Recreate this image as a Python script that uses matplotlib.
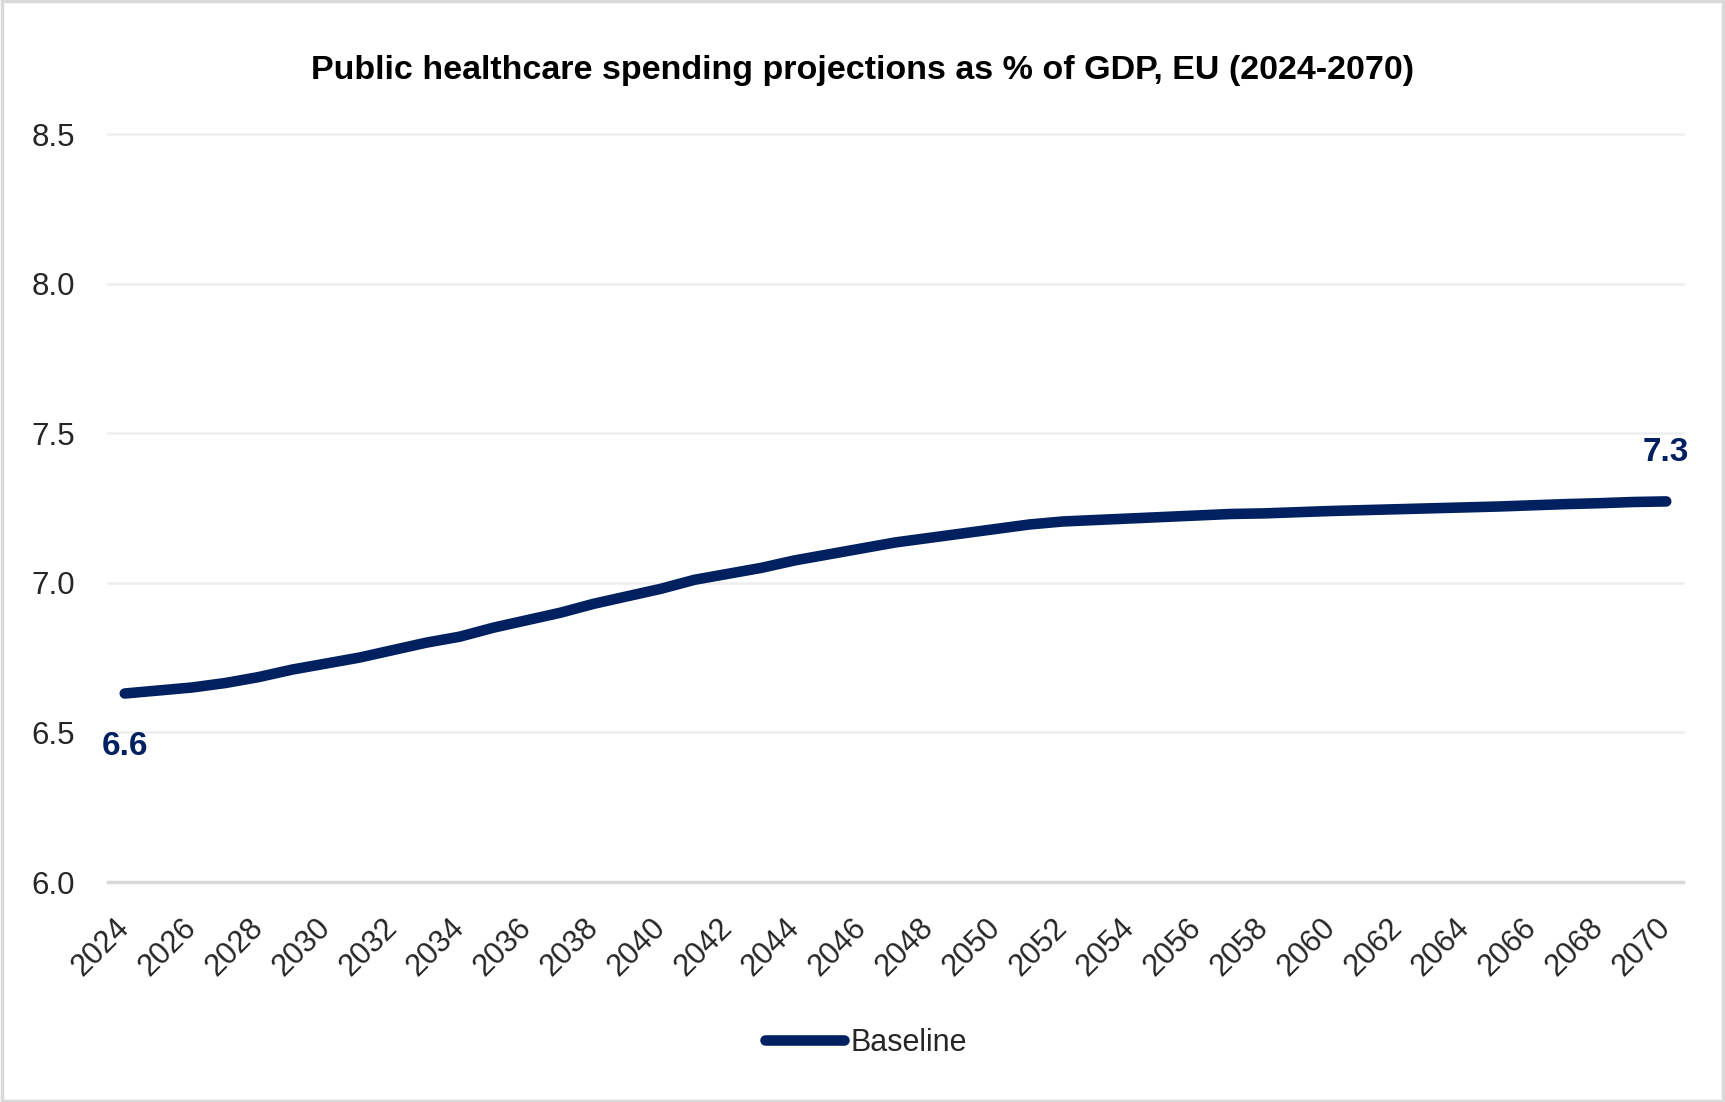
import numpy as np
import matplotlib.pyplot as plt
from matplotlib.patches import Rectangle

# Projection data (EU, % of GDP)
years = list(range(2024, 2071))
baseline = [6.63, 6.64, 6.65, 6.665, 6.685, 6.71, 6.73, 6.75, 6.775, 6.80,
            6.82, 6.85, 6.875, 6.90, 6.93, 6.955, 6.98, 7.01, 7.03, 7.05,
            7.075, 7.095, 7.115, 7.135, 7.15, 7.165, 7.18, 7.195, 7.205, 7.21,
            7.215, 7.22, 7.225, 7.23, 7.232, 7.236, 7.24, 7.243, 7.246, 7.249,
            7.252, 7.255, 7.259, 7.263, 7.266, 7.27, 7.272]
tick_years = years[::2]
y_ticks = [6.0, 6.5, 7.0, 7.5, 8.0, 8.5]

navy = '#002060'
text_col = '#262626'


def main():
    fig = plt.figure(figsize=(17.25, 11.02), dpi=100)
    ax = fig.add_axes([108 / 1725, 1 - 882 / 1102, 1575 / 1725, 748 / 1102])

    ax.plot(years, baseline, color=navy, lw=7.6, solid_capstyle='round',
            solid_joinstyle='round', label='Baseline', zorder=3)

    # first / last value labels
    ax.annotate(f'{baseline[0]:.1f}', (years[0], baseline[0]), xytext=(0, -38),
                textcoords='offset points', ha='center', va='center',
                fontsize=24, fontweight='bold', color=navy,
                family='Liberation Sans')
    ax.annotate(f'{baseline[-1]:.1f}', (years[-1], baseline[-1]), xytext=(0, 35),
                textcoords='offset points', ha='center', va='center',
                fontsize=24, fontweight='bold', color=navy,
                family='Liberation Sans')

    ax.set_xlim(years[0] - 0.5, years[-1] + 0.5)
    ax.set_ylim(6.0, 8.5)
    ax.set_yticks(y_ticks)
    ax.set_yticklabels([f'{v:.1f}' for v in y_ticks], family='Liberation Sans',
                       fontsize=22.5, color=text_col)
    ax.set_xticks(tick_years)
    ax.set_xticklabels([str(y) for y in tick_years], rotation=45, ha='right',
                       va='center', rotation_mode='anchor',
                       family='Liberation Sans', fontsize=22, color=text_col)
    ax.tick_params(axis='y', length=0, pad=24)
    ax.tick_params(axis='x', length=0, pad=30)

    for s in ax.spines.values():
        s.set_visible(False)
    for v in y_ticks[1:]:
        ax.axhline(v, color='#eeeeee', lw=1.8, zorder=1, clip_on=False)
    ax.axhline(6.0, color='#d9d9d9', lw=2.5, zorder=2, clip_on=False)

    fig.text(0.5, 1 - 71 / 1102,
             'Public healthcare spending projections as % of GDP, EU (2024-2070)',
             ha='center', va='center', fontsize=24.5, fontweight='bold',
             family='Liberation Sans', color='black')

    leg = fig.legend(loc='center', bbox_to_anchor=(0.502, 1 - 1043 / 1102),
                     frameon=False, handlelength=2.6, handletextpad=0.2,
                     prop={'family': 'Liberation Sans', 'size': 22})
    for t in leg.get_texts():
        t.set_color(text_col)

    # outer frame
    fig.patches.append(Rectangle((0.001, 0.001), 0.998, 0.998, transform=fig.transFigure,
                                 fill=False, edgecolor='#d9d9d9', lw=2.5))

    fig.savefig('out.png', dpi=100, facecolor='white')


main()
